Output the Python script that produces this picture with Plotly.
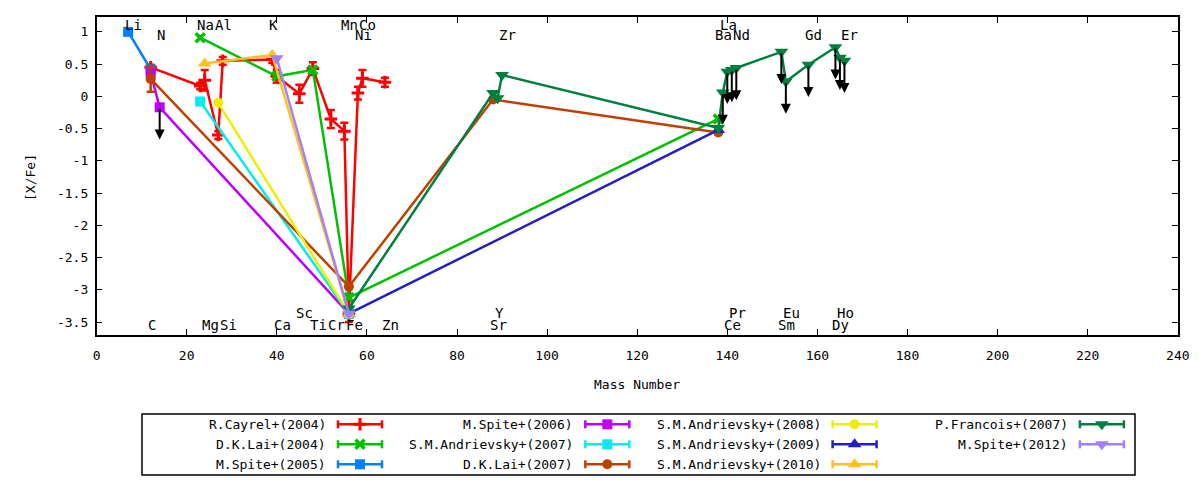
import plotly.graph_objects as go

# ---- data: [X/Fe] against mass number, one group of lists per paper ----
CAYREL_X = [12, 23, 24, 27, 28, 39, 40, 45, 48, 52, 55, 56, 58, 59, 64]
CAYREL_Y = [0.45, 0.16, 0.25, -0.60, 0.55, 0.57, 0.31, 0.04, 0.43, -0.35, -0.54, -3.37, 0.05, 0.28, 0.22]
CAYREL_ERR = [0.04, 0.05, 0.16, 0.06, 0.06, 0.05, 0.10, 0.14, 0.10, 0.14, 0.13, 0.13, 0.10, 0.13, 0.07]

LAI04_X = [23, 40, 48, 56, 138]
LAI04_Y = [0.91, 0.31, 0.41, -3.12, -0.35]

SPITE05_X = [7, 12]
SPITE05_Y = [1.00, 0.42]

SPITE06_X = [12, 14, 56]
SPITE06_Y = [0.36, -0.17, -3.37]
SPITE06_UL = [0, 1, 0]

ANDR07_X = [23, 56]
ANDR07_Y = [-0.08, -3.37]

LAI07_X = [12, 56, 88, 138]
LAI07_Y = [0.27, -2.95, -0.05, -0.56]
LAI07_ERR = [0.20, 0.0, 0.0, 0.0]

ANDR08_X = [27, 56]
ANDR08_Y = [-0.10, -3.37]

ANDR09_X = [56, 138]
ANDR09_Y = [-3.37, -0.52]

ANDR10_X = [24, 39, 56]
ANDR10_Y = [0.51, 0.64, -3.37]

FRANCOIS_X = [56, 88, 89, 90, 138, 139, 140, 141, 142, 152, 153, 158, 164, 165, 166]
FRANCOIS_Y = [-3.29, 0.05, -0.03, 0.33, -0.49, 0.06, 0.38, 0.41, 0.44, 0.69, 0.23, 0.49, 0.76, 0.60, 0.55]
FRANCOIS_UL = [0, 0, 0, 0, 0, 1, 1, 1, 1, 1, 1, 1, 1, 1, 1]

SPITE12_X = [40, 56]
SPITE12_Y = [0.59, -3.37]

# element labels (name, mass number, text row)
ELEM_NAMES = ["Li", "Na", "Al", "K", "Mn", "Co", "La",
              "N", "Ni", "Zr", "Ba", "Nd", "Gd", "Er",
              "C", "Mg", "Si", "Ca", "Ti", "Cr", "Fe", "Zn", "Sr", "Ce", "Sm", "Dy",
              "Sc", "Y", "Pr", "Eu", "Ho"]
ELEM_MASS = [7, 23, 27, 39, 55, 59, 139,
             14, 58, 90, 138, 142, 158, 166,
             12, 24, 28, 40, 48, 52, 56, 64, 88, 140, 152, 164,
             45, 89, 141, 153, 165]
ELEM_ROW = [0] * 7 + [1] * 7 + [2] * 12 + [3] * 5

Y_TICKS = [1, 0.5, 0, -0.5, -1, -1.5, -2, -2.5, -3, -3.5]
Y_TICK_TEXT = ["1", "0.5", "0", "-0.5", "-1", "-1.5", "-2", "-2.5", "-3", "-3.5"]

# ---- styling ----
W, H = 1200, 480
PX_L, PX_R, PX_T, PX_B = 96.6, 1177.8, 17, 335
ROW_Y = [1.1, 0.95, -3.55, -3.36]
ARROW_LEN = 0.5
FONT = "DejaVu Sans Mono"

series = [
    ("R.Cayrel+(2004)", CAYREL_X, CAYREL_Y, CAYREL_ERR, None, "#ff0000", "cross-thin", 9, 3),
    ("D.K.Lai+(2004)", LAI04_X, LAI04_Y, None, None, "#00c000", "x-thin", 9, 3.5),
    ("M.Spite+(2005)", SPITE05_X, SPITE05_Y, None, None, "#0080ff", "square", 10, 0),
    ("M.Spite+(2006)", SPITE06_X, SPITE06_Y, None, SPITE06_UL, "#c000ff", "square", 10, 0),
    ("S.M.Andrievsky+(2007)", ANDR07_X, ANDR07_Y, None, None, "#00eeee", "square", 10, 0),
    ("D.K.Lai+(2007)", LAI07_X, LAI07_Y, LAI07_ERR, None, "#c04000", "circle", 10, 0),
    ("S.M.Andrievsky+(2008)", ANDR08_X, ANDR08_Y, None, None, "#eeee00", "circle", 10, 0),
    ("S.M.Andrievsky+(2009)", ANDR09_X, ANDR09_Y, None, None, "#2020c0", "triangle-up", 12, 0),
    ("S.M.Andrievsky+(2010)", ANDR10_X, ANDR10_Y, None, None, "#ffc020", "triangle-up", 12, 0),
    ("P.Francois+(2007)", FRANCOIS_X, FRANCOIS_Y, None, FRANCOIS_UL, "#008040", "triangle-down", 12, 0),
    ("M.Spite+(2012)", SPITE12_X, SPITE12_Y, None, None, "#a080ff", "triangle-down", 12, 0),
]

fig = go.Figure()
annotations = []
shapes = []


def marker_style(color, symbol, size, lw):
    return dict(symbol=symbol, size=size, color=color,
                line=dict(color=color, width=lw))


for name, xs, ys, err, ul, color, symbol, size, lw in series:
    tr = go.Scatter(x=xs, y=ys, mode="lines+markers", name=name, showlegend=False,
                    line=dict(color=color, width=2.5),
                    marker=marker_style(color, symbol, size, lw),
                    cliponaxis=False)
    if err is not None:
        tr.error_y = dict(type="data", array=err, visible=True, color=color,
                          thickness=2.5, width=4)
    fig.add_trace(tr)
    if ul is not None:
        for xv, yv, flag in zip(xs, ys, ul):
            if flag:
                annotations.append(dict(
                    x=xv, y=yv - ARROW_LEN, ax=xv, ay=yv,
                    xref="x", yref="y", axref="x", ayref="y",
                    text="", showarrow=True, arrowhead=2, arrowsize=1,
                    arrowwidth=2, arrowcolor="black", standoff=0, startstandoff=0))

# element name labels
for nm, m, row in zip(ELEM_NAMES, ELEM_MASS, ELEM_ROW):
    annotations.append(dict(x=m, y=ROW_Y[row], xref="x", yref="y", text=nm,
                            showarrow=False, xanchor="left", yanchor="middle",
                            xshift=-5, font=dict(family=FONT, size=14, color="black")))

# axis titles
annotations.append(dict(x=637 / W, y=1 - 384 / H, xref="paper", yref="paper",
                        text="Mass Number", showarrow=False,
                        xanchor="center", yanchor="middle",
                        font=dict(family=FONT, size=13, color="black")))
annotations.append(dict(x=30 / W, y=1 - 178 / H, xref="paper", yref="paper",
                        text="[X/Fe]", showarrow=False, textangle=-90,
                        xanchor="center", yanchor="middle",
                        font=dict(family=FONT, size=13, color="black")))

# gnuplot-style key box below the plot, drawn on a pixel-coordinate overlay axis
shapes.append(dict(type="rect", xref="x2", yref="y2", x0=142, x1=1135, y0=414, y1=475,
                   line=dict(color="black", width=1.5)))
for i, (name, xs, ys, err, ul, color, symbol, size, lw) in enumerate(series):
    col, row = divmod(i, 3)
    tx = 328 + 247.3 * col
    ty = 424.3 + 20 * row
    annotations.append(dict(x=tx, y=ty, xref="x2", yref="y2", text=name,
                            showarrow=False, xanchor="right", yanchor="middle",
                            font=dict(family=FONT, size=13, color="black")))
    x0, x1 = tx + 10, tx + 54
    shapes.append(dict(type="line", xref="x2", yref="y2", x0=x0, x1=x1, y0=ty, y1=ty,
                       line=dict(color=color, width=2.5)))
    for xe in (x0, x1):
        shapes.append(dict(type="line", xref="x2", yref="y2", x0=xe, x1=xe,
                           y0=ty - 4, y1=ty + 4, line=dict(color=color, width=2.5)))
    fig.add_trace(go.Scatter(x=[tx + 32], y=[ty], xaxis="x2", yaxis="y2",
                             mode="markers", showlegend=False, hoverinfo="skip",
                             marker=marker_style(color, symbol, size, lw),
                             cliponaxis=False))

axis_common = dict(showline=True, linecolor="black", linewidth=1.5, mirror="ticks",
                   ticks="inside", ticklen=6, tickwidth=1.2, tickcolor="black",
                   showgrid=False, zeroline=False, automargin=False,
                   tickfont=dict(family=FONT, size=13, color="black"))

fig.update_layout(
    width=W, height=H, autosize=False,
    margin=dict(l=0, r=0, t=0, b=0, pad=0),
    paper_bgcolor="white", plot_bgcolor="rgba(0,0,0,0)",
    showlegend=False,
    xaxis=dict(domain=[PX_L / W, PX_R / W], range=[0, 240], tick0=0, dtick=20,
               anchor="y", ticklabelstandoff=8, **axis_common),
    yaxis=dict(domain=[1 - PX_B / H, 1 - PX_T / H], range=[-3.7, 1.23],
               tickvals=Y_TICKS, ticktext=Y_TICK_TEXT, anchor="x",
               ticklabelstandoff=4, **axis_common),
    xaxis2=dict(domain=[0, 1], range=[0, W], visible=False, anchor="y2", fixedrange=True),
    yaxis2=dict(domain=[0, 1], range=[H, 0], visible=False, anchor="x2", fixedrange=True),
    annotations=annotations,
    shapes=shapes,
)

# page body margin off so the 1200x480 figure fills the window
fig.write_html(
    "out.html",
    config={"displayModeBar": False, "responsive": False},
    default_width="1200px", default_height="480px",
    post_script="document.body.style.margin='0';document.body.style.overflow='hidden';"
                "Plotly.relayout('{plot_id}', {width: 1200, height: 480});",
)
